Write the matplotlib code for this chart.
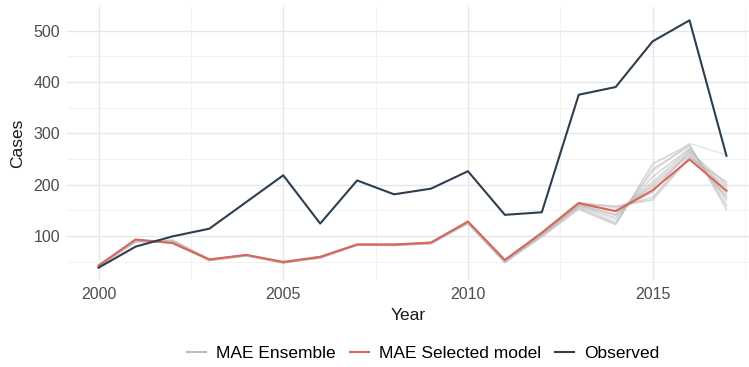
import matplotlib
matplotlib.use('Agg')
import matplotlib.pyplot as plt
from matplotlib.ticker import MultipleLocator

plt.rcParams['font.family'] = ['Liberation Sans', 'DejaVu Sans']

years = list(range(2000, 2018))

observed = [38, 79, 99, 114, 166, 218, 124, 208, 181, 192, 226, 141, 146, 375, 390, 479, 520, 256]
selected = [42, 93, 86, 54, 63, 49, 59, 83, 83, 87, 128, 53, 106, 164, 148, 189, 249, 188]

# ensemble members (one list per model run)
ensemble = [
    [41, 90, 88, 54, 62, 49, 59, 83, 82, 86, 126, 50, 103, 160, 140, 200, 262, 175],
    [43, 88, 90, 52, 61, 48, 57, 82, 84, 85, 125, 48, 100, 155, 125, 230, 275, 160],
    [42, 91, 86, 53, 63, 50, 60, 84, 83, 87, 128, 53, 107, 165, 155, 175, 255, 195],
    [40, 89, 92, 55, 62, 47, 58, 83, 81, 85, 124, 49, 98, 152, 122, 240, 278, 152],
    [42, 92, 87, 54, 62, 48, 59, 83, 83, 86, 127, 51, 104, 162, 148, 185, 265, 200],
    [41, 90, 89, 53, 61, 49, 58, 82, 82, 86, 126, 50, 102, 158, 135, 215, 270, 170],
    [43, 91, 88, 52, 62, 48, 57, 83, 83, 85, 127, 52, 105, 163, 158, 170, 252, 205],
    [42, 89, 91, 54, 63, 49, 59, 84, 84, 87, 125, 49, 101, 157, 130, 225, 280, 258],
    [41, 90, 87, 53, 62, 48, 58, 83, 82, 86, 126, 51, 103, 160, 142, 205, 268, 185],
    [42, 91, 90, 54, 62, 49, 58, 83, 83, 86, 127, 50, 104, 161, 150, 195, 258, 180],
]

ens_color = '#bdbdbd'
sel_color = '#d9665b'
obs_color = '#2c3e50'

fig = plt.figure(figsize=(7.49, 3.67), dpi=100)
ax = fig.add_axes([0.0897, 0.237, 0.9103, 0.744])

for i, run in enumerate(ensemble):
    # the last run fades out towards 2017
    a = 0.35 if run[-1] > 250 else 0.6
    ax.plot(years, run, color=ens_color, lw=1.2, alpha=a,
            label='MAE Ensemble' if i == 0 else None)
ax.plot(years, selected, color=sel_color, lw=1.5, label='MAE Selected model')
ax.plot(years, observed, color=obs_color, lw=1.5, label='Observed')

ax.set_xlim(1999.15, 2017.61)
ax.set_ylim(14, 546)
ax.xaxis.set_major_locator(MultipleLocator(5))
ax.xaxis.set_minor_locator(MultipleLocator(2.5))
ax.yaxis.set_minor_locator(MultipleLocator(50))
ax.set_yticks([100, 200, 300, 400, 500])

ax.grid(which='major', color='#e6e6e6', lw=1.0)
ax.grid(which='minor', color='#f0f0f0', lw=0.6)
ax.set_axisbelow(True)
for s in ax.spines.values():
    s.set_visible(False)
ax.tick_params(which='both', length=0)
ax.tick_params(axis='both', labelsize=11.5, labelcolor='#4d4d4d', pad=5)

ax.set_xlabel('Year', fontsize=12.5, color='#1a1a1a', labelpad=4)
ax.set_ylabel('Cases', fontsize=12.5, color='#1a1a1a', labelpad=6)

leg = fig.legend(loc='center', bbox_to_anchor=(0.565, 0.038), ncol=3, frameon=False,
                 fontsize=12.5, handlelength=1.1, handletextpad=0.6, columnspacing=0.8)
for h in leg.get_lines():
    h.set_alpha(1)
    h.set_linewidth(1.5)

fig.savefig('out.png', dpi=100)
